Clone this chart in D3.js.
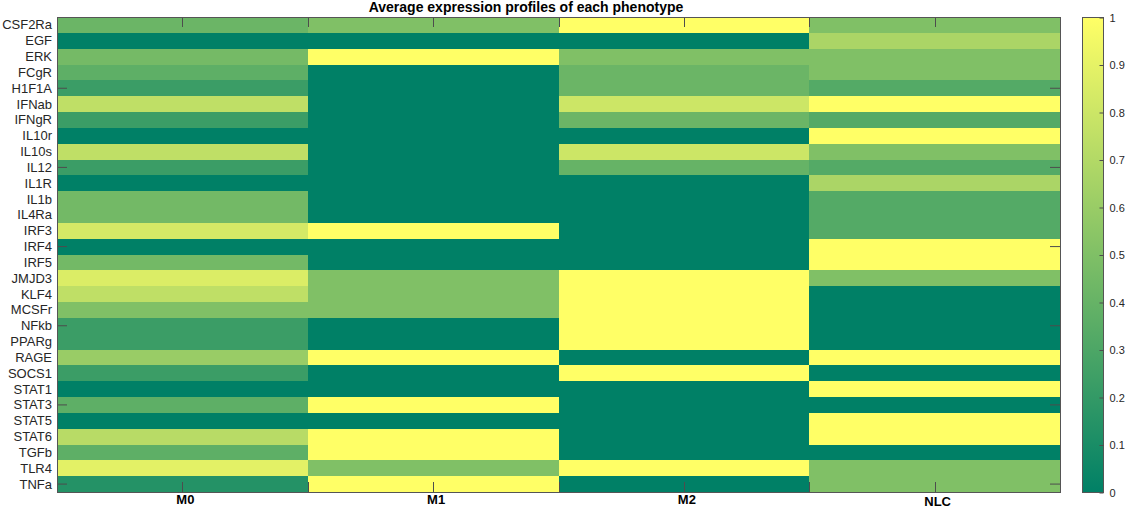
<!DOCTYPE html>
<html>
<head>
<meta charset="utf-8">
<script src="https://cdn.jsdelivr.net/npm/d3@7"></script>
<style>
  body { margin: 0; background: #fff; }
  text { font-family: "Liberation Sans", Arial, sans-serif; }
</style>
</head>
<body>
<script>
const genes = ["CSF2Ra","EGF","ERK","FCgR","H1F1A","IFNab","IFNgR","IL10r","IL10s","IL12",
  "IL1R","IL1b","IL4Ra","IRF3","IRF4","IRF5","JMJD3","KLF4","MCSFr","NFkb",
  "PPARg","RAGE","SOCS1","STAT1","STAT3","STAT5","STAT6","TGFb","TLR4","TNFa"];
const phenotypes = ["M0","M1","M2","NLC"];

// one array per phenotype, same order as genes
const m0  = [0.42,0,0.46,0.37,0.23,0.75,0.23,0,0.75,0.23,
             0,0.45,0.45,0.83,0,0.45,0.86,0.75,0.5,0.23,
             0.23,0.6,0.23,0,0.37,0,0.72,0.37,0.89,0.14];
const m1  = [0.5,0,1,0,0,0,0,0,0,0,
             0,0,0,1,0,0,0.5,0.5,0.5,0,
             0,1,0,0,1,0,1,1,0.5,1];
const m2  = [1,0,0.5,0.42,0.42,0.8,0.42,0,0.8,0.4,
             0,0,0,0,0,0,1,1,1,1,
             1,0,1,0,0,0,0,0,1,0];
const nlc = [0.5,0.67,0.5,0.5,0.33,1,0.33,1,0.5,0.33,
             0.67,0.33,0.33,0.33,1,1,0.5,0,0,0,
             0,1,0,1,0,1,1,0,0.5,0.5];
const cbTicks = [0,0.1,0.2,0.3,0.4,0.5,0.6,0.7,0.8,0.9,1];

const width = 1125, height = 508;
const margin = { top: 17, left: 57, right: 65, bottom: 16 };
const plotW = width - margin.left - margin.right;   // 1003
const plotH = height - margin.top - margin.bottom;  // 475

const series = [m0, m1, m2, nlc];
const cells = [];
series.forEach((vals, c) => vals.forEach((v, r) => cells.push({ col: phenotypes[c], row: genes[r], v })));

// MATLAB "summer" colormap: linear from (0,.5,.4) to (1,1,.4)
const color = d3.scaleLinear().domain([0, 1]).range(["#008066", "#ffff66"]);

const svg = d3.select("body").append("svg")
  .attr("width", width).attr("height", height);

const x = d3.scaleBand().domain(phenotypes).range([margin.left, margin.left + plotW]);
const y = d3.scaleBand().domain(genes).range([margin.top, margin.top + plotH]);
// continuous position scale for tick marks (image coords 0.5..4.5)
const xPos = d3.scaleLinear().domain([0.5, 4.5]).range([margin.left, margin.left + plotW]);

svg.append("g").selectAll("rect")
  .data(cells)
  .enter().append("rect")
    .attr("x", d => x(d.col))
    .attr("y", d => y(d.row))
    .attr("width", x.bandwidth() + 0.5)
    .attr("height", y.bandwidth() + 0.5)
    .attr("fill", d => color(d.v))
    .attr("shape-rendering", "crispEdges");

const tickLen = 10;
const axisColor = "#4d4d4d";

// y tick marks every 5 rows, both sides
const yTickRows = genes.filter((g, i) => (i + 1) % 5 === 0);
const ticks = svg.append("g").attr("stroke", axisColor).attr("stroke-width", 1);
yTickRows.forEach(g => {
  const yy = y(g) + y.bandwidth() / 2;
  ticks.append("line").attr("x1", margin.left).attr("x2", margin.left + tickLen).attr("y1", yy).attr("y2", yy);
  ticks.append("line").attr("x1", margin.left + plotW - tickLen).attr("x2", margin.left + plotW).attr("y1", yy).attr("y2", yy);
});
// x tick marks every half unit, top and bottom
d3.range(0.5, 4.51, 0.5).forEach(t => {
  const xx = Math.round(xPos(t)) + 0.5;
  ticks.append("line").attr("x1", xx).attr("x2", xx).attr("y1", margin.top).attr("y2", margin.top + tickLen);
  ticks.append("line").attr("x1", xx).attr("x2", xx).attr("y1", margin.top + plotH - tickLen).attr("y2", margin.top + plotH);
});

// box
svg.append("rect")
  .attr("x", margin.left + 0.5).attr("y", margin.top + 0.5)
  .attr("width", plotW).attr("height", plotH)
  .attr("fill", "none").attr("stroke", "#555").attr("stroke-width", 1);

// y labels
svg.append("g").selectAll("text")
  .data(genes)
  .enter().append("text")
    .attr("x", margin.left - 5)
    .attr("y", d => y(d) + y.bandwidth() / 2)
    .attr("dy", "0.35em")
    .attr("text-anchor", "end")
    .attr("font-size", 13)
    .attr("fill", "#262626")
    .text(d => d);

// x labels (NLC sits a bit lower in the original)
svg.append("g").selectAll("text")
  .data(phenotypes)
  .enter().append("text")
    .attr("x", d => x(d) + x.bandwidth() / 2 + 3)
    .attr("y", d => d === "NLC" ? 506 : 504)
    .attr("text-anchor", "middle")
    .attr("font-size", 13)
    .attr("font-weight", "bold")
    .attr("fill", "#000")
    .text(d => d);

// title
svg.append("text")
  .attr("x", 526)
  .attr("y", 12)
  .attr("text-anchor", "middle")
  .attr("font-size", 14)
  .attr("font-weight", "bold")
  .attr("fill", "#000")
  .text("Average expression profiles of each phenotype");

// colorbar
const cbX = 1082, cbW = 21;
const cbScale = d3.scaleLinear().domain([0, 1]).range([margin.top + plotH, margin.top]);
const grad = svg.append("defs").append("linearGradient")
  .attr("id", "cb").attr("x1", 0).attr("y1", 1).attr("x2", 0).attr("y2", 0);
grad.append("stop").attr("offset", "0%").attr("stop-color", color(0));
grad.append("stop").attr("offset", "100%").attr("stop-color", color(1));

svg.append("rect")
  .attr("x", cbX + 0.5).attr("y", margin.top + 0.5)
  .attr("width", cbW).attr("height", plotH)
  .attr("fill", "url(#cb)")
  .attr("stroke", "#555").attr("stroke-width", 1);

const cbAxis = d3.axisRight(cbScale)
  .tickValues(cbTicks)
  .tickSize(-4)
  .tickPadding(6)
  .tickFormat(d3.format("~g"));

svg.append("g")
  .attr("transform", `translate(${cbX + cbW + 0.5},0.5)`)
  .call(cbAxis)
  .call(g => g.select(".domain").remove())
  .call(g => g.selectAll("line").attr("stroke", axisColor))
  .call(g => g.selectAll("text")
    .attr("font-size", 11)
    .attr("font-family", "Liberation Sans, Arial, sans-serif")
    .attr("fill", "#262626"));
</script>
</body>
</html>
